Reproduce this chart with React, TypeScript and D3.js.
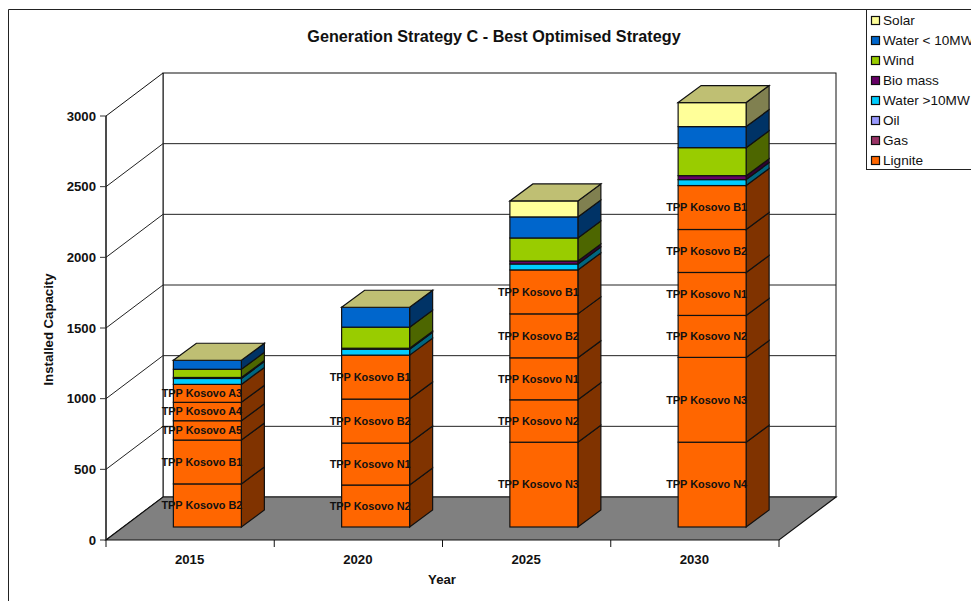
import React from "react";
import * as d3 from "d3";

const years = ["2015", "2020", "2025", "2030"];
const title = "Generation Strategy C - Best Optimised Strategy";
const yTicks = [0, 500, 1000, 1500, 2000, 2500, 3000];
const legendItems = [
  { name: "Solar", color: "#FFFF99" },
  { name: "Water < 10MW", color: "#0066CC" },
  { name: "Wind", color: "#99CC00" },
  { name: "Bio mass", color: "#660066" },
  { name: "Water >10MW", color: "#00CCFF" },
  { name: "Oil", color: "#9999FF" },
  { name: "Gas", color: "#993366" },
  { name: "Lignite", color: "#FF6600" },
];
const ligniteLabels = [
  ["TPP Kosovo B2", "TPP Kosovo B1", "TPP Kosovo A5", "TPP Kosovo A4", "TPP Kosovo A3"],
  ["TPP Kosovo N2", "TPP Kosovo N1", "TPP Kosovo B2", "TPP Kosovo B1"],
  ["TPP Kosovo N3", "TPP Kosovo N2", "TPP Kosovo N1", "TPP Kosovo B2", "TPP Kosovo B1"],
  ["TPP Kosovo N4", "TPP Kosovo N3", "TPP Kosovo N2", "TPP Kosovo N1", "TPP Kosovo B2", "TPP Kosovo B1"],
];
const ligniteValues = [
  [305, 310, 137, 130, 127],
  [297, 297, 311, 311],
  [600, 300, 297, 311, 311],
  [600, 600, 297, 304, 304, 311],
];
const waterBig = [42, 42, 42, 42];
const bioMass = [7, 7, 21, 28];
const wind = [58, 149, 163, 198];
const waterSmall = [64, 141, 149, 149];
const solar = [0, 0, 113, 170];

const sideColors: Record<string, string> = {
  "#FF6600": "#803300",
  "#00CCFF": "#006680",
  "#660066": "#330033",
  "#99CC00": "#4D6600",
  "#0066CC": "#003366",
  "#FFFF99": "#808050",
};
const topColor = "#BFBF73";

const FONT = "'Liberation Sans', Arial, sans-serif";
const W = 971;
const H = 601;
const x0 = 106;
const x1 = 779;
const yBase = 540;
const yTop = 116;
const wallDx = 57;
const wallDy = 43;
const barDx = 23;
const barDy = 17;
const barW = 68;

const xScale = d3.scaleBand<string>().domain(years).range([x0, x1]);
const yScale = d3.scaleLinear().domain([0, 3000]).range([yBase, yTop]);
const pts = (p: number[][]) => p.map((d) => d.join(",")).join(" ");

export default function App() {
  const insetX = (wallDx - barDx) / 2;
  const insetY = (wallDy - barDy) / 2;
  const bars = years.map((yr, i) => {
    const segs = [
      ...ligniteValues[i].map((v, j) => ({ v, c: "#FF6600", label: ligniteLabels[i][j] })),
      { v: waterBig[i], c: "#00CCFF", label: "" },
      { v: bioMass[i], c: "#660066", label: "" },
      { v: wind[i], c: "#99CC00", label: "" },
      { v: waterSmall[i], c: "#0066CC", label: "" },
      { v: solar[i], c: "#FFFF99", label: "" },
    ].filter((s) => s.v > 0);
    let acc = 0;
    const left = xScale(yr)! + xScale.bandwidth() / 2 + insetX - barW / 2 + 0.25;
    const stacked = segs.map((s) => {
      const yb = yScale(acc) - insetY;
      acc += s.v;
      const yt = yScale(acc) - insetY;
      return { ...s, yb, yt };
    });
    return { yr, left, stacked, top: stacked[stacked.length - 1].yt };
  });

  return (
    <svg
      width={W}
      height={H}
      style={{ position: "absolute", left: 0, top: 0, display: "block", background: "#fff" }}
      fontFamily={FONT}
    >
      <path d={`M8.5,${H} V9.5 H${W}`} fill="none" stroke="#222" strokeWidth={1} />

      <text x={494} y={42} textAnchor="middle" fontSize={16.2} fontWeight="bold" fill="#111">{title}</text>

      {/* walls */}
      <rect x={x0 + wallDx} y={yTop - wallDy} width={x1 - x0} height={yBase - yTop} fill="#fff" stroke="#111" />
      <polygon
        points={pts([[x0, yTop], [x0 + wallDx, yTop - wallDy], [x0 + wallDx, yBase - wallDy], [x0, yBase]])}
        fill="#fff"
        stroke="#111"
      />
      {yTicks.slice(1, -1).map((t) => (
        <path
          key={t}
          d={`M${x0},${yScale(t)} L${x0 + wallDx},${yScale(t) - wallDy} H${x1 + wallDx}`}
          fill="none"
          stroke="#222"
        />
      ))}
      {/* floor */}
      <polygon
        points={pts([[x0, yBase], [x1, yBase], [x1 + wallDx, yBase - wallDy], [x0 + wallDx, yBase - wallDy]])}
        fill="#808080"
        stroke="#111"
        strokeWidth={1.2}
      />

      {/* axes */}
      <path d={`M${x0},${yTop} V${yBase}`} stroke="#111" fill="none" />
      {yTicks.map((t) => (
        <g key={t}>
          <line x1={x0 - 6} x2={x0} y1={yScale(t)} y2={yScale(t)} stroke="#333" />
          <text x={96} y={yScale(t) + 4.5} textAnchor="end" fontSize={13.2} fontWeight="bold" fill="#111">{t}</text>
        </g>
      ))}
      {[...years.map((y) => xScale(y)!), x1].map((x) => (
        <line key={x} x1={x} x2={x} y1={yBase} y2={yBase + 7} stroke="#111" />
      ))}
      {years.map((y) => (
        <text key={y} x={xScale(y)! + xScale.bandwidth() / 2 - 0.5} y={564} textAnchor="middle" fontSize={13.2} fontWeight="bold" fill="#111">{y}</text>
      ))}
      <text x={442} y={584} textAnchor="middle" fontSize={13.2} fontWeight="bold" fill="#111">Year</text>
      <text transform="translate(53,329.5) rotate(-90)" textAnchor="middle" fontSize={13.2} fontWeight="bold" fill="#111">Installed Capacity</text>

      {/* bars */}
      {bars.map((b) => (
        <g key={b.yr}>
          {b.stacked.map((s, k) => (
            <g key={k}>
              <polygon
                points={pts([
                  [b.left + barW, s.yb],
                  [b.left + barW + barDx, s.yb - barDy],
                  [b.left + barW + barDx, s.yt - barDy],
                  [b.left + barW, s.yt],
                ])}
                fill={sideColors[s.c]}
                stroke="#111"
                strokeWidth={1.2}
              />
              <rect x={b.left} y={s.yt} width={barW} height={s.yb - s.yt} fill={s.c} stroke="#111" strokeWidth={1.2} />
            </g>
          ))}
          <polygon
            points={pts([
              [b.left, b.top],
              [b.left + barDx, b.top - barDy],
              [b.left + barW + barDx, b.top - barDy],
              [b.left + barW, b.top],
            ])}
            fill={topColor}
            stroke="#111"
            strokeWidth={1.2}
          />
          {b.stacked.filter((s) => s.label).map((s, k) => (
            <text
              key={k}
              x={b.left + barW / 2 - 5.5}
              y={(s.yb + s.yt) / 2 + 3.8}
              textAnchor="middle"
              fontSize={10.9}
              fontWeight="bold"
              fill="#111"
            >
              {s.label}
            </text>
          ))}
        </g>
      ))}

      {/* legend */}
      <rect x={866.5} y={9.5} width={120} height={160} fill="#fff" stroke="#222" />
      {legendItems.map((d, i) => (
        <g key={d.name}>
          <rect x={871.5} y={16.5 + i * 20} width={8} height={8} fill={d.color} stroke="#111" strokeWidth={1.2} />
          <text x={883} y={25 + i * 20} fontSize={13.6} fill="#111">{d.name}</text>
        </g>
      ))}
    </svg>
  );
}
